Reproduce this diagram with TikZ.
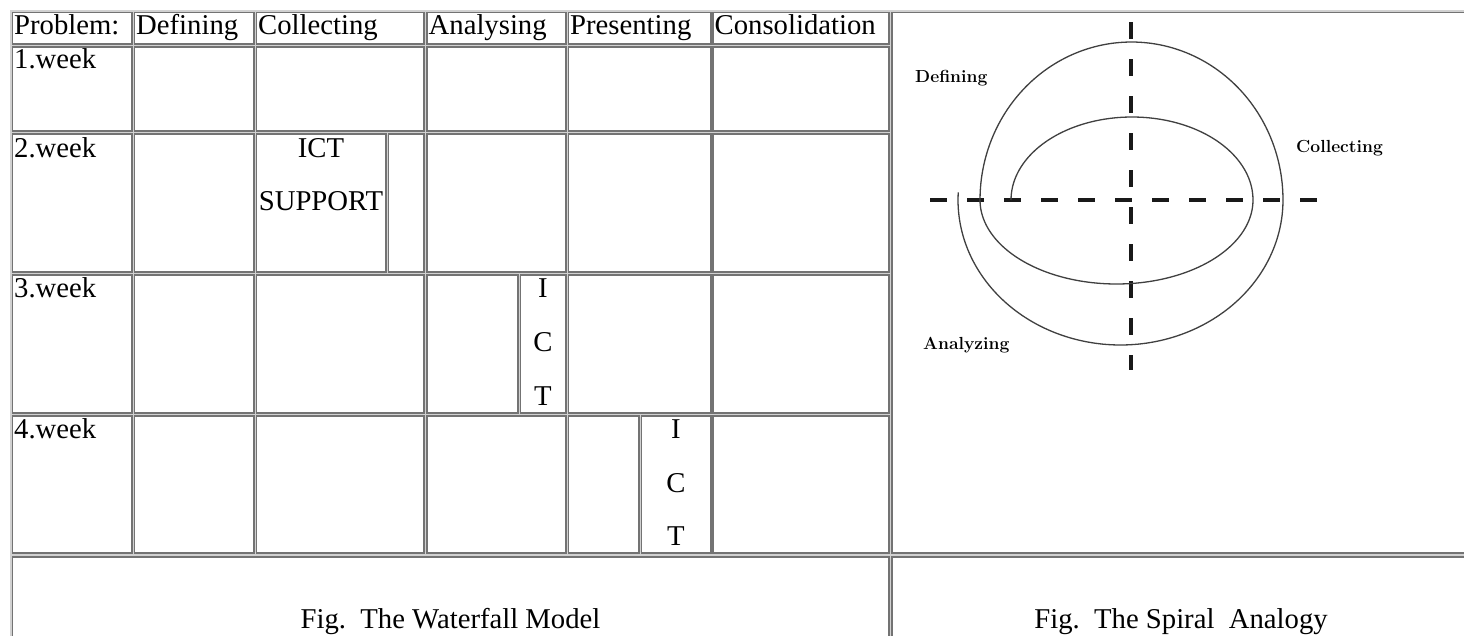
\documentclass[tikz,border=0pt]{standalone}
\usepackage{fontspec}
\newfontfamily\tabfont{Liberation Serif}
\tikzset{
  cell/.style={draw=black!55, fill=white, line width=1.4pt},
  tabtext/.style={font=\tabfont\fontsize{28.7pt}{34pt}\selectfont, inner sep=0pt},
  spirallabel/.style={font=\bfseries\fontsize{17.5pt}{20pt}\selectfont, text=black, inner sep=0pt, anchor=base west},
  axisline/.style={line width=4pt, dash pattern=on 17pt off 20pt, black!90},
  spiralline/.style={line width=1.3pt, black!75}
}
\begin{document}
\begin{tikzpicture}[x=1pt, y=-1pt]
\useasboundingbox (0,0) rectangle (1464,635);
\clip (0,0) rectangle (1464,635);

% table frame
\fill[black!18] (10,10) rectangle (1472,652);

% header row
\draw[cell] (12.5,12.5) rectangle (132,44);
\draw[cell] (134.5,12.5) rectangle (254,44);
\draw[cell] (256.5,12.5) rectangle (424,44);
\draw[cell] (427,12.5) rectangle (566,44);
\draw[cell] (568.5,12.5) rectangle (711,44);
\draw[cell] (713,12.5) rectangle (889,44);
\draw[cell] (892,12.5) rectangle (1470,553);

% 1.week
\draw[cell] (12.5,47) rectangle (132,131);
\draw[cell] (134.5,47) rectangle (254,131);
\draw[cell] (256.5,47) rectangle (424,131);
\draw[cell] (427,47) rectangle (566,131);
\draw[cell] (568.5,47) rectangle (711,131);
\draw[cell] (713,47) rectangle (889,131);

% 2.week
\draw[cell] (12.5,134) rectangle (132,272);
\draw[cell] (134.5,134) rectangle (254,272);
\draw[cell] (256.5,134) rectangle (386,272);
\draw[cell] (388.5,134) rectangle (424,272);
\draw[cell] (427,134) rectangle (566,272);
\draw[cell] (568.5,134) rectangle (711,272);
\draw[cell] (713,134) rectangle (889,272);

% 3.week
\draw[cell] (12.5,275) rectangle (132,413);
\draw[cell] (134.5,275) rectangle (254,413);
\draw[cell] (256.5,275) rectangle (424,413);
\draw[cell] (427,275) rectangle (518,413);
\draw[cell] (520.5,275) rectangle (566,413);
\draw[cell] (568.5,275) rectangle (711,413);
\draw[cell] (713,275) rectangle (889,413);

% 4.week
\draw[cell] (12.5,416) rectangle (132,553);
\draw[cell] (134.5,416) rectangle (254,553);
\draw[cell] (256.5,416) rectangle (424,553);
\draw[cell] (427,416) rectangle (566,553);
\draw[cell] (568.5,416) rectangle (639,553);
\draw[cell] (641.5,416) rectangle (711,553);
\draw[cell] (713,416) rectangle (889,553);

% captions row
\draw[cell] (12.5,557) rectangle (889,660);
\draw[cell] (892,557) rectangle (1470,660);

% texts
\node[tabtext, anchor=base west] (problem) at (14,34) {Problem:};
\node[tabtext, anchor=base west] (defining) at (136,34) {Defining};
\node[tabtext, anchor=base west] (collecting) at (258,34) {Collecting};
\node[tabtext, anchor=base west] (analysing) at (428.5,34) {Analysing};
\node[tabtext, anchor=base west] (presenting) at (570,34) {Presenting};
\node[tabtext, anchor=base west] (consolidation) at (714.5,34) {Consolidation};

\node[tabtext, anchor=base west] (week1) at (14,68) {1.week};
\node[tabtext, anchor=base west] (week2) at (14,157) {2.week};
\node[tabtext, anchor=base west] (week3) at (14,297) {3.week};
\node[tabtext, anchor=base west] (week4) at (14,438) {4.week};

\node[tabtext, anchor=base] (ict2) at (321,157) {ICT};
\node[tabtext, anchor=base] (support2) at (321,210) {SUPPORT};

\node[tabtext, anchor=base] (i3) at (543,297) {I};
\node[tabtext, anchor=base] (c3) at (543,351) {C};
\node[tabtext, anchor=base] (t3) at (543,405) {T};

\node[tabtext, anchor=base] (i4) at (676,438) {I};
\node[tabtext, anchor=base] (c4) at (676,492) {C};
\node[tabtext, anchor=base] (t4) at (676,545) {T};

\node[tabtext, anchor=base] (waterfall) at (450.5,628.5) {Fig.\ \ The Waterfall Model};
\node[tabtext, anchor=base] (spiral) at (1181,628.5) {Fig.\ \ The Spiral\ \ Analogy};

% spiral analogy
\draw[axisline] (930,200) -- (1323,200);
\draw[axisline] (1131,22) -- (1131,370);

\draw[spiralline] plot[domain=180:0, samples=60, smooth] ({1132+121*cos(\x)}, {200-83*sin(\x)});
\draw[spiralline] plot[domain=0:180, samples=60, smooth] ({1116.5+136.5*cos(\x)}, {200+84*sin(\x)});
\draw[spiralline] plot[domain=180:0, samples=60, smooth] ({1131.5+151.5*cos(\x)}, {200-158*sin(\x)});
\draw[spiralline] plot[domain=0:183, samples=60, smooth] ({1120.5+162.5*cos(\x)}, {200+145*sin(\x)});

\node[spirallabel] (sdefining) at (915,82) {Defining};
\node[spirallabel] (scollecting) at (1296,152) {Collecting};
\node[spirallabel] (sanalyzing) at (923,349) {Analyzing};
\end{tikzpicture}
\end{document}
